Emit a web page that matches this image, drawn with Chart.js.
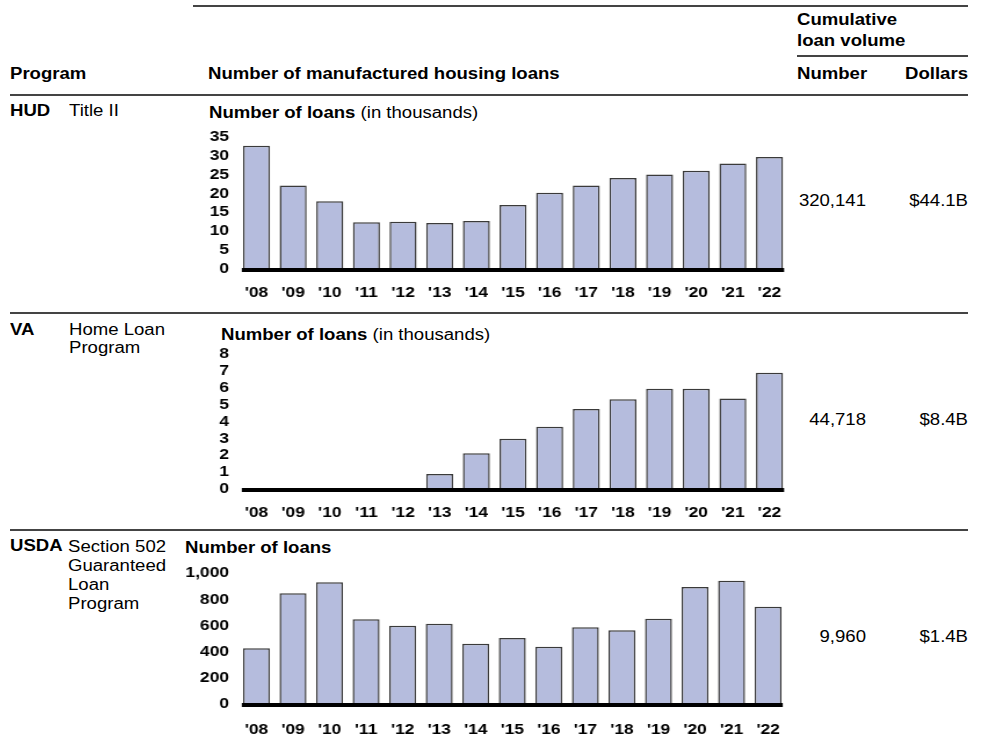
<!DOCTYPE html>
<html>
<head>
<meta charset="utf-8">
<script src="https://cdn.jsdelivr.net/npm/chart.js@4.4.1/dist/chart.umd.min.js"></script>
<style>
  html, body { margin: 0; padding: 0; background: #fff; }
  body { width: 982px; height: 741px; position: relative; overflow: hidden;
         font-family: "Liberation Sans", Arial, sans-serif; font-size: 16px; color: #000; }
  /* the source type is a little wider than Arial, so stretch it */
  .t { position: absolute; line-height: 18px; white-space: nowrap; transform: scaleX(1.16); transform-origin: left center; }
  .b { font-weight: bold; }
  .r { text-align: right; transform-origin: right center; }
  .rule { position: absolute; height: 2px; background: #444; }
  canvas { position: absolute; }
</style>
</head>
<body>
<!-- header rules and labels -->
<div class="rule" style="left:193px; top:5px; width:775px;"></div>
<div class="t b" style="left:797px; top:11px;">Cumulative</div>
<div class="t b" style="left:797px; top:32px;">loan volume</div>
<div class="rule" style="left:797px; top:55px; width:171px; height:1.5px;"></div>
<div class="t b" style="left:10px; top:65px;">Program</div>
<div class="t b" style="left:208px; top:65px;">Number of manufactured housing loans</div>
<div class="t b" style="left:797px; top:65px;">Number</div>
<div class="t b r" style="left:868px; top:65px; width:100px;">Dollars</div>
<div class="rule" style="left:10px; top:94px; width:958px;"></div>

<!-- HUD row -->
<div class="t b" style="left:10px; top:102px;">HUD</div>
<div class="t" style="left:69px; top:102px;">Title II</div>
<div class="t" style="left:209px; top:104px;"><b>Number of loans</b> (in thousands)</div>
<div class="t r" style="left:766px; top:192px; width:100px;">320,141</div>
<div class="t r" style="left:868px; top:192px; width:100px;">$44.1B</div>
<div class="rule" style="left:10px; top:312px; width:958px; height:1.5px;"></div>

<!-- VA row -->
<div class="t b" style="left:10px; top:321px;">VA</div>
<div class="t" style="left:69px; top:321px;">Home Loan<br>Program</div>
<div class="t" style="left:221px; top:326px;"><b>Number of loans</b> (in thousands)</div>
<div class="t r" style="left:766px; top:411px; width:100px;">44,718</div>
<div class="t r" style="left:868px; top:411px; width:100px;">$8.4B</div>
<div class="rule" style="left:10px; top:529px; width:958px; height:1.5px;"></div>

<!-- USDA row -->
<div class="t b" style="left:10px; top:537px;">USDA</div>
<div class="t" style="left:68px; top:537px; line-height:19px;">Section 502<br>Guaranteed<br>Loan<br>Program</div>
<div class="t b" style="left:185px; top:539px;">Number of loans</div>
<div class="t r" style="left:766px; top:628px; width:100px;">9,960</div>
<div class="t r" style="left:868px; top:628px; width:100px;">$1.4B</div>

<canvas id="hudChart" style="left:170px; top:120px;"></canvas>
<canvas id="vaChart" style="left:170px; top:320px;"></canvas>
<canvas id="usdaChart" style="left:170px; top:555px;"></canvas>

<script>
// --- data ---
const years = ["'08", "'09", "'10", "'11", "'12", "'13", "'14", "'15", "'16", "'17", "'18", "'19", "'20", "'21", "'22"];
// HUD Title II, thousands of loans
const hudLoans = [32.6, 22.1, 17.9, 12.4, 12.5, 12.2, 12.7, 16.9, 20.2, 22.1, 24.1, 25.0, 26.0, 27.9, 29.6];
// VA Home Loan Program, thousands of loans
const vaLoans = [0, 0, 0, 0, 0, 0.89, 2.12, 2.98, 3.69, 4.74, 5.32, 5.94, 5.94, 5.37, 6.89];
// USDA Section 502 Guaranteed Loan Program, loans
const usdaLoans = [426, 847, 931, 648, 599, 614, 461, 505, 438, 587, 564, 653, 895, 943, 744];

const hudTicks = { max: 35, step: 5 };
const vaTicks = { max: 8, step: 1 };
const usdaTicks = { max: 1000, step: 200 };

const BAR_FILL = 'rgb(181, 188, 221)';
const BAR_EDGE = '#3a3a3a';
const FONT = "'Liberation Sans', Arial, sans-serif";
const STRETCH = 1.16;   // horizontal stretch, same as the html text
const SHOW_W = 630;     // on-screen canvas width

// thick black baseline spanning first bar edge to last bar edge
const baselinePlugin = {
    id: 'baseline',
    afterDatasetsDraw(chart) {
        const bars = chart.getDatasetMeta(0).data;
        if (!bars.length) return;
        const first = bars[0], last = bars[bars.length - 1];
        const y0 = chart.scales.y.getPixelForValue(0);
        const ctx = chart.ctx;
        ctx.save();
        ctx.strokeStyle = '#000';
        ctx.lineWidth = 4;
        ctx.beginPath();
        ctx.moveTo(first.x - first.width / 2 - 1, y0 + 1);
        ctx.lineTo(last.x + last.width / 2 + 1, y0 + 1);
        ctx.stroke();
        ctx.restore();
    }
};

function makeBarChart(id, values, ticks, geom) {
    const canvas = document.getElementById(id);
    const w = Math.round(SHOW_W / STRETCH);
    const k = SHOW_W / w; // real stretch factor
    canvas.width = w;
    canvas.height = geom.h;
    canvas.style.width = SHOW_W + 'px';
    canvas.style.height = geom.h + 'px';
    return new Chart(canvas.getContext('2d'), {
        type: 'bar',
        data: {
            labels: years,
            datasets: [{
                data: values,
                backgroundColor: BAR_FILL,
                borderColor: BAR_EDGE,
                borderWidth: 1.5,
                barPercentage: 0.737,
                categoryPercentage: 1.0
            }]
        },
        options: {
            responsive: false,
            animation: false,
            devicePixelRatio: 1,
            layout: { padding: { top: geom.top, right: 12.2 / k, bottom: 0, left: 0 } },
            scales: {
                x: {
                    grid: { display: false, drawTicks: false, tickLength: 0 },
                    border: { display: false },
                    ticks: { color: '#000', font: { family: FONT, size: 15, weight: 'bold' }, padding: geom.labelPad, maxRotation: 0, autoSkip: false },
                    afterFit(scale) { scale.height = geom.h - geom.zero; }
                },
                y: {
                    min: 0,
                    max: ticks.max,
                    grid: { display: false, drawTicks: false, tickLength: 0 },
                    border: { display: false },
                    ticks: {
                        stepSize: ticks.step,
                        autoSkip: false,
                        padding: 9.2 / k,
                        color: '#000',
                        font: { family: FONT, size: 15, weight: 'bold', lineHeight: 1 },
                        callback: v => v.toLocaleString('en-US')
                    },
                    afterFit(scale) { scale.width = 68.18 / k; }
                }
            },
            plugins: { legend: { display: false }, tooltip: { enabled: false } }
        },
        plugins: [baselinePlugin]
    });
}

// top = y of max tick, zero = y of value 0, both relative to the canvas top
makeBarChart('hudChart', hudLoans, hudTicks, { h: 190, top: 16.7, zero: 149, labelPad: 14.7 });
makeBarChart('vaChart', vaLoans, vaTicks, { h: 210, top: 34, zero: 169, labelPad: 14.7 });
makeBarChart('usdaChart', usdaLoans, usdaTicks, { h: 190, top: 18.3, zero: 149, labelPad: 17 });
</script>
</body>
</html>
